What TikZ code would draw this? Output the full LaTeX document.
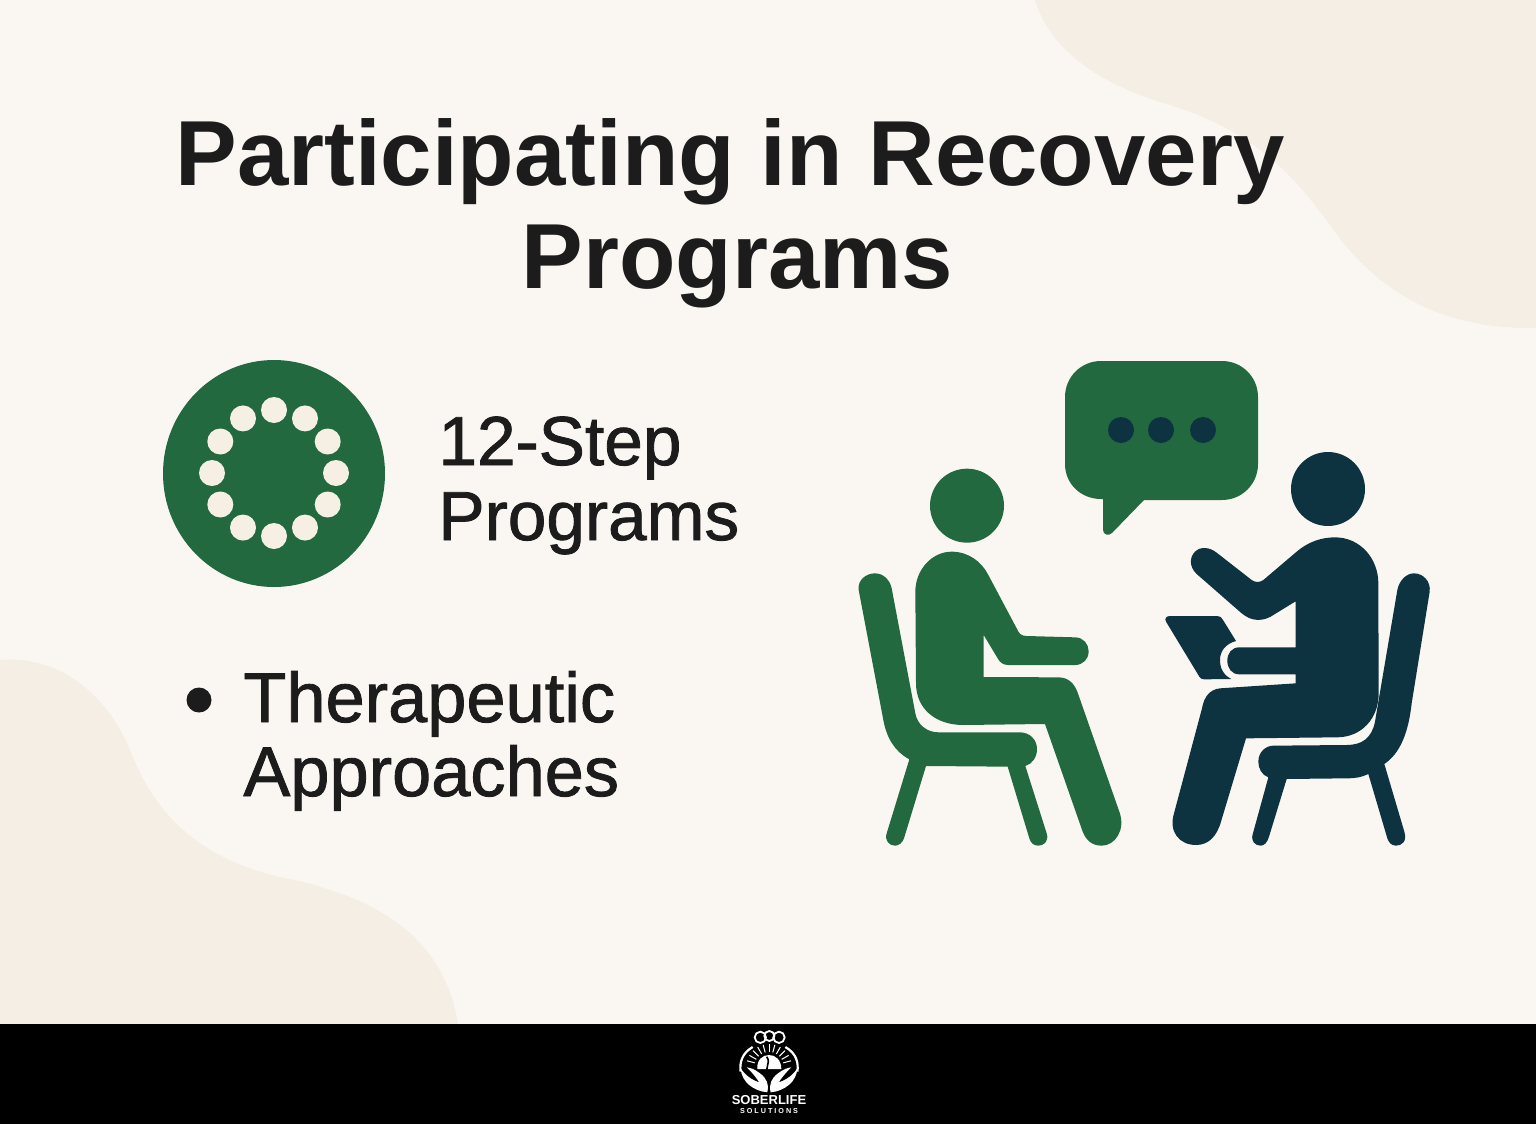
\documentclass[tikz,border=0pt]{standalone}
\usepackage{fontspec}
\setmainfont{Liberation Sans}
\newfontfamily\titlefont{Liberation Sans Bold}
\newfontfamily\bodyfont[FakeBold=1.2]{Liberation Sans}
\definecolor{bgpaper}{HTML}{FAF7F2}
\definecolor{blob}{HTML}{F5EEE5}
\definecolor{leaf}{HTML}{22693F}
\definecolor{navy}{HTML}{0D3340}
\definecolor{ink}{HTML}{1C1C1C}
\definecolor{dotc}{HTML}{F5EFE4}
\tikzset{
  titletext/.style={anchor=base,inner sep=0pt,text=ink,font=\titlefont\fontsize{46.2}{50}\selectfont},
  bodytext/.style={anchor=base west,inner sep=0pt,text=ink,font=\bodyfont\fontsize{34.7}{40}\selectfont},
  bodytextb/.style={anchor=base west,inner sep=0pt,text=ink,font=\bodyfont\fontsize{35.2}{40}\selectfont},
  logoline/.style={draw=white,line width=1.1pt,fill=none},
}
\begin{document}
\begin{tikzpicture}[x=0.5pt,y=-0.5pt]
\useasboundingbox (0,0) rectangle (1536,1124);
\fill[bgpaper] (0,0) rectangle (1536,1124);
% corner blobs
\fill[blob] (1035,0) .. controls (1050,50) and (1100,85) .. (1170,105)
  .. controls (1250,130) and (1290,170) .. (1330,225)
  .. controls (1375,290) and (1440,330) .. (1536,328) -- (1536,0) -- cycle;
\fill[blob] (0,660) .. controls (55,655) and (105,690) .. (130,750)
  .. controls (155,815) and (200,860) .. (285,878)
  .. controls (390,900) and (445,945) .. (458,1024) -- (0,1024) -- cycle;
\fill[black] (0,1024) rectangle (1536,1124);
% title
\node[titletext] (t1) at (730,185) {Participating in Recovery};
\node[titletext] (t2) at (737.5,288) {Programs};
% circle icon
\fill[leaf] (274,473.5) ellipse (111 and 113.5);
\foreach \a in {0,30,...,330} \fill[dotc] (274,473) ++(\a:62 and 63) circle (13);
% text
\node[bodytext] (s1) at (438,465) {12-Step};
\node[bodytext] (s2) at (438,540) {Programs};
\fill[ink] (199,700) circle (12.5);
\node[bodytextb] (a1) at (243,722) {Therapeutic};
\node[bodytextb] (a2) at (243,796) {Approaches};
% bubble
\fill[leaf] (1101,361) -- (1222,361) .. controls (1242,361) and (1258,377) .. (1258,397)
  -- (1258,464) .. controls (1258,484) and (1242,500) .. (1222,500)
  -- (1144,500) -- (1112,533) .. controls (1109,536) and (1103,535) .. (1103,530)
  -- (1103,499) -- (1101,499) .. controls (1081,499) and (1065,484) .. (1065,464)
  -- (1065,397) .. controls (1065,377) and (1081,361) .. (1101,361) -- cycle;
\foreach \x in {1121,1161,1203} \fill[navy] (\x,430) circle (13);
% left person
\begin{scope}[shift={(840,350)},scale=1/3]
\fill[leaf] (381,467) circle (111);
\fill[leaf] (335,605) .. controls (385,605) and (425,635) .. (445,675)
  -- (530,835) .. controls (537,852) and (545,858) .. (560,858)
  -- (705,862) .. controls (730,862) and (746,882) .. (746,904)
  .. controls (746,928) and (728,945) .. (705,945)
  -- (505,945) .. controls (490,945) and (480,938) .. (473,925)
  -- (431,855) -- (431,981) -- (655,982)
  .. controls (685,982) and (702,1000) .. (712,1025)
  -- (838,1385) .. controls (858,1440) and (825,1487) .. (785,1487)
  .. controls (755,1487) and (738,1470) .. (728,1445)
  -- (615,1122) -- (370,1125)
  .. controls (285,1125) and (228,1075) .. (228,1000)
  -- (226,725) .. controls (226,660) and (275,605) .. (335,605) -- cycle;
\fill[leaf] (56,720) .. controls (52,690) and (78,670) .. (105,670)
  .. controls (130,670) and (150,690) .. (155,715)
  -- (226,1090) .. controls (232,1125) and (262,1147) .. (295,1147)
  -- (540,1147) .. controls (570,1147) and (591,1170) .. (591,1197)
  .. controls (591,1222) and (577,1242) .. (556,1248)
  -- (620,1450) .. controls (628,1475) and (610,1487) .. (595,1487)
  .. controls (580,1487) and (572,1478) .. (568,1465)
  -- (503,1250) -- (258,1248) -- (192,1465)
  .. controls (187,1480) and (175,1487) .. (165,1487)
  .. controls (148,1487) and (133,1472) .. (140,1450)
  -- (208,1228) .. controls (165,1205) and (140,1165) .. (130,1110) -- cycle;
\end{scope}
% right person
\begin{scope}[shift={(1140,440)},scale=1/3]
\fill[navy] (564,147) circle (111);
\fill[navy] (585,292) .. controls (660,292) and (715,355) .. (715,430)
  -- (716,760) .. controls (716,835) and (665,892) .. (590,892)
  -- (318,895) -- (243,1145) .. controls (230,1190) and (205,1215) .. (168,1215)
  .. controls (118,1215) and (85,1175) .. (102,1120)
  -- (186,805) .. controls (192,770) and (210,748) .. (240,745)
  -- (467,730) -- (467,703) -- (298,703)
  .. controls (275,703) and (262,685) .. (262,662)
  .. controls (262,640) and (275,622) .. (298,622)
  -- (467,622) -- (467,484) -- (405,522)
  .. controls (370,547) and (335,545) .. (305,520)
  -- (170,402) .. controls (145,378) and (150,350) .. (165,335)
  .. controls (182,318) and (210,322) .. (230,338)
  -- (335,420) .. controls (347,428) and (358,428) .. (370,420)
  -- (470,335) .. controls (505,305) and (545,292) .. (585,292) -- cycle;
\fill[navy] (78,545) .. controls (72,535) and (80,528) .. (90,528)
  -- (232,528) .. controls (240,528) and (245,532) .. (249,540)
  -- (288,603) .. controls (255,612) and (240,635) .. (240,660)
  .. controls (240,685) and (250,705) .. (274,717)
  -- (192,718) .. controls (185,718) and (181,715) .. (178,710) -- cycle;
\fill[navy] (355,965) .. controls (355,935) and (378,917) .. (400,917)
  -- (620,915) .. controls (665,915) and (695,895) .. (705,845)
  -- (772,450) .. controls (778,420) and (800,400) .. (822,400)
  .. controls (850,400) and (873,425) .. (869,455)
  -- (815,790) .. controls (805,880) and (780,940) .. (733,972)
  -- (793,1175) .. controls (802,1205) and (785,1217) .. (768,1217)
  .. controls (755,1217) and (746,1208) .. (742,1195)
  -- (685,1002) .. controls (665,1012) and (645,1015) .. (620,1015)
  -- (440,1017) -- (387,1190) .. controls (382,1208) and (372,1217) .. (362,1217)
  .. controls (345,1217) and (332,1203) .. (338,1183)
  -- (385,1012) .. controls (365,1005) and (355,985) .. (355,965) -- cycle;
\end{scope}
% logo
\begin{scope}[shift={(700,1025)},scale=1/3]
\draw[logoline] (158,66) .. controls (125,85) and (118,115) .. (122,140);
\draw[logoline] (256,66) .. controls (290,85) and (296,115) .. (292,140);
\draw[logoline,line width=0.9pt] (181,37) circle (17);
\draw[logoline,line width=0.9pt] (208,33) circle (15);
\draw[logoline,line width=0.9pt] (237,37) circle (17);
\fill[white] (172,132) .. controls (170,105) and (187,90) .. (207,90)
  .. controls (227,90) and (244,105) .. (244,132) -- cycle;
\foreach \a in {-165,-150,...,-15} \draw[white,line width=0.5pt] (207,125) ++(\a:44) -- ++(\a:24);
% left and right hands
\fill[white] (122,130) .. controls (124,170) and (160,198) .. (202,202)
  .. controls (208,178) and (200,160) .. (180,145)
  .. controls (165,133) and (150,128) .. (140,127)
  .. controls (155,140) and (170,160) .. (178,172)
  .. controls (155,165) and (135,150) .. (122,130) -- cycle;
\fill[white] (292,130) .. controls (290,170) and (254,198) .. (212,202)
  .. controls (206,178) and (214,160) .. (234,145)
  .. controls (249,133) and (264,128) .. (274,127)
  .. controls (259,140) and (244,160) .. (236,172)
  .. controls (259,165) and (279,150) .. (292,130) -- cycle;
\draw[black,line width=0.8pt] (200,95) .. controls (215,115) and (190,130) .. (205,150) .. controls (212,165) and (205,185) .. (206,202);
\end{scope}
\node[anchor=base,inner sep=0pt,text=white,font=\bfseries\fontsize{6.5}{8}\selectfont] (lg1) at (769,1104) {SOBERLIFE};
\node[anchor=base,inner sep=0pt,text=white,font=\bfseries\fontsize{3.6}{4}\selectfont] (lg2) at (769,1113) {S O L U T I O N S};
\end{tikzpicture}
\end{document}
